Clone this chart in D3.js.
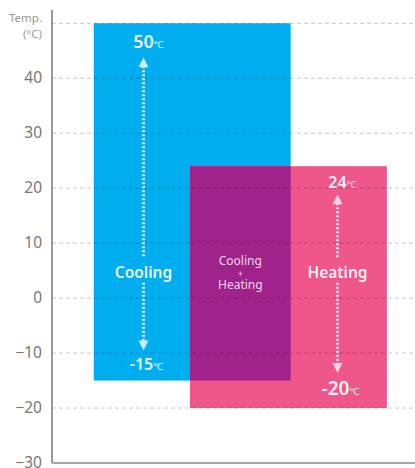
<!DOCTYPE html>
<html>
<head>
<meta charset="utf-8">
<script src="https://cdn.jsdelivr.net/npm/d3@7"></script>
<style>
  body { margin: 0; background: #fff; }
  svg { display: block; font-family: "Noto Sans", "Open Sans", sans-serif; }
</style>
</head>
<body>
<svg id="chart"></svg>
<script>
// operating ranges (°C)
var modes = ['Cooling', 'Heating'];
var modeMax = [50, 24];
var modeMin = [-15, -20];
var modeSpan = [[0.46, 2.63], [1.52, 3.69]];   // horizontal extent in x units
var modeColor = ['#00aeef', '#ef5689'];
var arrowColor = ['#c9ecfb', '#fbd3e1'];
var overlapColor = '#a0228b';

var tickVals = [40, 30, 20, 10, 0, -10, -20, -30];
var gridVals = [50, 40, 30, 20, 10, 0, -10, -20];

var width = 415, height = 468;

var svg = d3.select('#chart')
  .attr('width', width)
  .attr('height', height);

var x = d3.scaleLinear().domain([0, 4]).range([52, 415]);
var y = d3.scaleLinear().domain([-30, 50]).range([463, 23.3]);

// bars
var g = svg.append('g');
g.selectAll('rect.mode')
  .data(modes).enter()
  .append('rect')
  .attr('class', 'mode')
  .attr('x', function(d, i) { return x(modeSpan[i][0]); })
  .attr('width', function(d, i) { return x(modeSpan[i][1]) - x(modeSpan[i][0]); })
  .attr('y', function(d, i) { return y(modeMax[i]); })
  .attr('height', function(d, i) { return y(modeMin[i]) - y(modeMax[i]); })
  .style('fill', function(d, i) { return modeColor[i]; });

// overlap of both ranges
var ox0 = Math.max(modeSpan[0][0], modeSpan[1][0]),
    ox1 = Math.min(modeSpan[0][1], modeSpan[1][1]),
    oTop = Math.min(modeMax[0], modeMax[1]),
    oBot = Math.max(modeMin[0], modeMin[1]);
g.append('rect')
  .attr('x', x(ox0))
  .attr('width', x(ox1) - x(ox0))
  .attr('y', y(oTop))
  .attr('height', y(oBot) - y(oTop))
  .style('fill', overlapColor);

// grid lines on top
svg.append('g').selectAll('line')
  .data(gridVals).enter()
  .append('line')
  .attr('x1', x(0)).attr('x2', width)
  .attr('y1', function(d) { return y(d); })
  .attr('y2', function(d) { return y(d); })
  .style('stroke', '#000')
  .style('stroke-opacity', 0.22)
  .style('stroke-dasharray', '4,3');

// axes
var axisG = svg.append('g').attr('transform', 'translate(' + x(0) + ',0)');
axisG.call(d3.axisLeft(y).tickValues(tickVals).tickSize(0).tickPadding(10));
axisG.select('.domain').remove();
axisG.selectAll('text')
  .attr('dy', '0.28em')
  .style('font-family', '"Noto Sans", sans-serif')
  .style('font-size', '15.5px')
  .style('fill', '#777');

svg.append('line')
  .attr('x1', x(0)).attr('x2', x(0))
  .attr('y1', 10).attr('y2', y(-30))
  .style('stroke', '#777').style('stroke-width', 1.5);
svg.append('line')
  .attr('x1', x(0)).attr('x2', width)
  .attr('y1', y(-30)).attr('y2', y(-30))
  .style('stroke', '#888').style('stroke-width', 1.5);

svg.append('text')
  .attr('x', 42).attr('y', 21.5)
  .attr('text-anchor', 'end')
  .style('font-size', '11.5px').style('fill', '#999')
  .text('Temp.');
svg.append('text')
  .attr('x', 42).attr('y', 38)
  .attr('text-anchor', 'end')
  .style('font-size', '11.5px').style('fill', '#999')
  .text('(°C)');

// arrows and labels
modes.forEach(function(m, i) {
  var cx = i === 0 ? 143.5 : 337.5;
  var col = arrowColor[i];
  var midY = y(4.6);   // label position inside bar
  var topY = y(modeMax[i]), botY = y(modeMin[i]);
  var upTip = topY + (i === 0 ? 34 : 28);
  var downTip = botY - (i === 0 ? 30 : 35);

  // dotted shafts
  var shafts = [[upTip + 9, midY - 15], [midY + 10, downTip - 9]];
  shafts.forEach(function(s) {
    svg.append('line')
      .attr('x1', cx).attr('x2', cx)
      .attr('y1', s[0]).attr('y2', s[1])
      .style('stroke', col)
      .style('stroke-width', 3)
      .style('stroke-dasharray', '2,2');
  });
  // heads
  svg.append('path')
    .attr('d', d3.line()([[cx, upTip], [cx - 5, upTip + 10], [cx + 5, upTip + 10]]) + 'Z')
    .style('fill', col);
  svg.append('path')
    .attr('d', d3.line()([[cx, downTip], [cx - 5, downTip - 10], [cx + 5, downTip - 10]]) + 'Z')
    .style('fill', col);

  // mode label
  svg.append('text')
    .attr('x', cx).attr('y', midY + 5)
    .attr('text-anchor', 'middle')
    .style('font-size', '15.5px').style('font-weight', 600)
    .style('fill', '#fff').style('fill-opacity', 0.93)
    .text(m);

  // max / min value labels
  var maxSize = i === 0 ? 18 : 16, minSize = i === 0 ? 16 : 19;
  var maxT = svg.append('text')
    .attr('x', cx + 5).attr('y', topY + (i === 0 ? 25 : 21.5))
    .attr('text-anchor', 'middle')
    .style('fill', '#fff').style('fill-opacity', 0.93);
  maxT.append('tspan').style('font-size', maxSize + 'px').style('font-weight', 600).text(modeMax[i]);
  maxT.append('tspan').style('font-size', '10px').text('℃');

  var minT = svg.append('text')
    .attr('x', cx + 3).attr('y', botY + (i === 0 ? -11 : -13))
    .attr('text-anchor', 'middle')
    .style('fill', '#fff').style('fill-opacity', 0.93);
  minT.append('tspan').style('font-size', minSize + 'px').style('font-weight', 600).text(modeMin[i]);
  minT.append('tspan').style('font-size', '10px').text('℃');
});

// overlap label
var olx = x((ox0 + ox1) / 2);
var olText = ['Cooling', '+', 'Heating'];
var olY = [265, 277, 289];
svg.append('g').selectAll('text')
  .data(olText).enter()
  .append('text')
  .attr('x', olx)
  .attr('y', function(d, i) { return olY[i]; })
  .attr('text-anchor', 'middle')
  .style('font-size', function(d) { return d === '+' ? '9px' : '12px'; })
  .style('fill', '#f3d5ec')
  .text(function(d) { return d; });
</script>
</body>
</html>
